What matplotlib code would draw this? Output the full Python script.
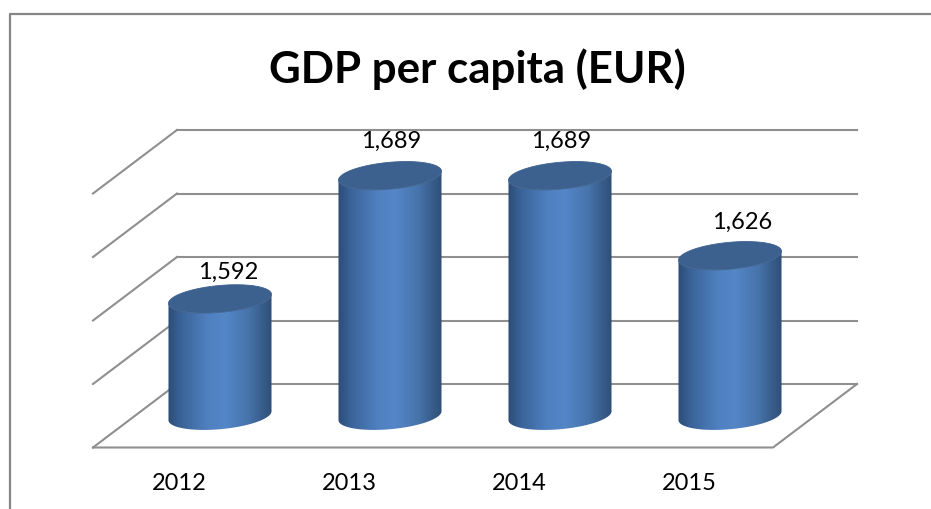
import numpy as np
import matplotlib
matplotlib.use("Agg")
import matplotlib.pyplot as plt
from matplotlib.colors import LinearSegmentedColormap
from matplotlib.lines import Line2D
from matplotlib.patches import PathPatch
from matplotlib.path import Path

years = ["2012", "2013", "2014", "2015"]
gdp = [1592, 1689, 1689, 1626]
grid_values = [1500, 1550, 1600, 1650, 1700]

W, H = 931, 509
DPI = 100
GRID = "#8f8f8f"

# oblique depth of the box, in axis units (half depth each way)
DEPTH_X = 0.247
DEPTH_Y = 25

# cylinder shape in axis units
RX = 0.303
RY = 10.6
TILT = 3.5

# label nudges in points
label_shift = [(6, 19), (1, 25), (1, 25), (9, 24)]

plt.rcParams["font.family"] = ["Lato", "DejaVu Sans"]

fig = plt.figure(figsize=(W / DPI, H / DPI), dpi=DPI, facecolor="white")
ax = fig.add_axes([93 / W, 1 - 447.5 / H, 764 / W, 317.5 / H])
ax.set_xlim(-0.5 - DEPTH_X, 3.5 + DEPTH_X)
ax.set_ylim(1500 - DEPTH_Y, 1700 + DEPTH_Y)
ax.patch.set_visible(False)
for s in ax.spines.values():
    s.set_visible(False)

# outer chart frame, open on the right and bottom
fig.add_artist(Line2D([9.5 / W, 9.5 / W, 1], [0, 1 - 13.5 / H, 1 - 13.5 / H],
                      color="#868686", lw=1.6))

# back wall and left wall gridlines
x0, x1 = -0.5, 3.5
for v in grid_values:
    ax.plot([x0 - DEPTH_X, x0 + DEPTH_X], [v - DEPTH_Y, v + DEPTH_Y],
            color=GRID, lw=1.5, clip_on=False, zorder=1)
    ax.plot([x0 + DEPTH_X, x1 + DEPTH_X], [v + DEPTH_Y, v + DEPTH_Y],
            color=GRID, lw=1.5, clip_on=False, zorder=1)

# floor
base = grid_values[0]
ax.plot([x0 - DEPTH_X, x1 - DEPTH_X, x1 + DEPTH_X],
        [base - DEPTH_Y, base - DEPTH_Y, base + DEPTH_Y],
        color=GRID, lw=1.5, clip_on=False, zorder=1)

side_cmap = LinearSegmentedColormap.from_list(
    "side", [(0, "#2c4c75"), (0.12, "#3a6398"), (0.38, "#4f80c0"), (0.55, "#5486c8"),
             (0.78, "#4673aa"), (0.92, "#375b88"), (1, "#2f4f78")])
gradient = np.linspace(0, 1, 256).reshape(1, -1)


def rim(cx, cy, t):
    # tilted ellipse outline
    return cx + RX * np.cos(t), cy + TILT * np.cos(t) + RY * np.sin(t)


for i, value in enumerate(gdp):
    t_low = np.linspace(np.pi, 2 * np.pi, 60)
    bx, by = rim(i, base, t_low)
    tx, ty = rim(i, value, t_low[::-1])
    side = np.column_stack([np.r_[bx, tx], np.r_[by, ty]])
    clip = PathPatch(Path(np.vstack([side, side[:1]]), closed=True), transform=ax.transData,
                     facecolor="none", edgecolor="none")
    ax.add_patch(clip)
    img = ax.imshow(gradient, cmap=side_cmap, aspect="auto", interpolation="bilinear",
                    extent=(i - RX, i + RX, base - 20, value + 20), zorder=3)
    img.set_clip_path(clip)

    t_all = np.linspace(0, 2 * np.pi, 120)
    ex, ey = rim(i, value, t_all)
    ax.fill(ex, ey, color="#3d618f", lw=0.6, zorder=4)

    ax.annotate(f"{value:,}", (i, value), xytext=label_shift[i], textcoords="offset points",
                ha="center", va="center", fontsize=17, color="black", zorder=5,
                annotation_clip=False)

ax.set_xlim(-0.5 - DEPTH_X, 3.5 + DEPTH_X)
ax.set_ylim(1500 - DEPTH_Y, 1700 + DEPTH_Y)

ax.set_yticks([])
ax.set_xticks(np.arange(len(years)) - 0.241)
ax.set_xticklabels(years, fontsize=17, color="black")
ax.tick_params(axis="x", length=0, pad=18)

fig.text(477 / W, 1 - 69 / H, "GDP per capita (EUR)", ha="center", va="center",
         fontsize=31.6, fontweight="bold", color="black")

fig.savefig("out.png", dpi=DPI)
